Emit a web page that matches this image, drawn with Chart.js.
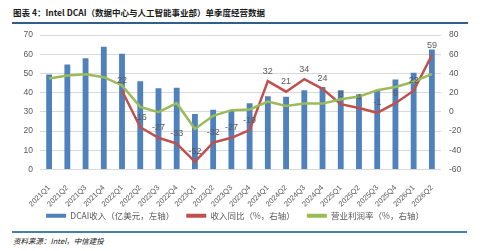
<!DOCTYPE html>
<html><head><meta charset="utf-8">
<script src="https://cdn.jsdelivr.net/npm/chart.js@4/dist/chart.umd.min.js"></script>
<style>
html,body{margin:0;padding:0;background:#fff;width:500px;height:251px;overflow:hidden}
#wrap{position:relative;width:500px;height:251px}
#title{position:absolute;left:13px;top:6px;font:bold 8.5px "Noto Sans CJK SC";color:#1a1a1a;white-space:nowrap}
#tline{position:absolute;left:12px;top:22px;width:456px;height:2px;background:#2F5F8A}
#fline{position:absolute;left:12px;top:231px;width:455px;height:2px;background:#4A7EAA}
#foot{position:absolute;left:13px;top:235px;font:italic 7.5px "Noto Sans CJK SC";color:#222;white-space:nowrap}
#c{position:absolute;left:0;top:0}
</style></head>
<body><div id="wrap">
<div id="title">图表 4：Intel DCAI（数据中心与人工智能事业部）单季度经营数据</div>
<div id="tline"></div>
<canvas id="c" width="500" height="230"></canvas>
<div id="fline"></div>
<div id="foot">资料来源：Intel，中信建投</div>
</div>
<script>
const categories = ["2021Q1","2021Q2","2021Q3","2021Q4","2022Q1","2022Q2","2022Q3","2022Q4","2023Q1","2023Q2","2023Q3","2023Q4","2024Q1","2024Q2","2024Q3","2024Q4","2025Q1","2025Q2","2025Q3","2025Q4","2026Q1","2026Q2"];
const revenue = [49.5,54.6,57.9,63.9,60.3,45.9,42.3,42.6,28.9,31.1,30.9,34.5,38.1,37.8,41.2,42.9,41.2,39.2,40.9,46.9,50.3,62.4];
const revenueYoY = [null,null,null,null,22,-16,-27,-33,-52,-32,-27,-19,32,21,34,24,8,4,-1,9,22,59];
const opMargin = [34.7,37.8,39.1,36.1,27.5,5.2,-0.3,9.0,-17.8,-4.1,1.8,2.5,10.7,6.2,8.6,8.6,13.1,15.9,22.4,25.8,31.3,39.5];
const leftTicks = [0,70,10];
const rightTicks = [-60,80,20];

const gray = '#595959';
const labelPlugin = {
  id:'yoyLabels',
  afterDatasetsDraw(chart){
    const ctx = chart.ctx;
    const meta = chart.getDatasetMeta(1);
    ctx.save();
    ctx.font = '9px "Liberation Sans", Arial, sans-serif';
    ctx.fillStyle = gray;
    ctx.textAlign = 'center';
    ctx.textBaseline = 'middle';
    meta.data.forEach((pt,i)=>{
      const v = revenueYoY[i];
      if(v===null) return;
      ctx.fillText(String(v), pt.x, pt.y-10);
    });
    ctx.restore();
  }
};

new Chart(document.getElementById('c'),{
  data:{
    labels:categories,
    datasets:[
      {type:'bar',label:'DCAI收入（亿美元，左轴）',data:revenue,backgroundColor:'#4F81BD',yAxisID:'y',categoryPercentage:1,barPercentage:0.32,order:3},
      {type:'line',label:'收入同比（%，右轴）',data:revenueYoY,borderColor:'#C0504D',backgroundColor:'#C0504D',borderWidth:2.5,pointRadius:0,tension:0,yAxisID:'y1',order:2,spanGaps:false},
      {type:'line',label:'营业利润率（%，右轴）',data:opMargin,borderColor:'#9BBB59',backgroundColor:'#9BBB59',borderWidth:2.5,pointRadius:0,tension:0,yAxisID:'y1',order:1}
    ]
  },
  options:{
    responsive:false,animation:false,
    layout:{padding:{top:35,left:0,right:30,bottom:0}},
    plugins:{
      tooltip:{enabled:false},
      legend:{position:'bottom',
        labels:{
          font:{size:8.5,family:'"Noto Sans CJK SC"'},color:gray,boxWidth:20,boxHeight:4,padding:12,
          sort:(a,b)=>a.datasetIndex-b.datasetIndex,
          generateLabels(chart){
            return chart.data.datasets.map((d,i)=>({text:d.label,fillStyle:d.backgroundColor,strokeStyle:d.backgroundColor,lineWidth:0,hidden:false,datasetIndex:i,fontColor:gray}));
          }
        }
      }
    },
    scales:{
      x:{grid:{display:false},border:{display:false},
        ticks:{minRotation:45,maxRotation:45,autoSkip:false,color:gray,font:{size:7.5,family:'"Liberation Sans", Arial'},padding:6},
        afterFit(s){s.height=30; s._computeLabelArea = ()=>undefined;}},
      y:{position:'left',min:leftTicks[0],max:leftTicks[1],
        ticks:{stepSize:leftTicks[2],color:gray,font:{size:8.5,family:'"Liberation Sans", Arial'},padding:7},
        grid:{color:'#D9D9D9',drawTicks:false},border:{display:false},
        afterFit(s){s.width=40;}},
      y1:{position:'right',min:rightTicks[0],max:rightTicks[1],
        ticks:{stepSize:rightTicks[2],color:gray,font:{size:8.5,family:'"Liberation Sans", Arial'},padding:8},
        grid:{drawOnChartArea:false,drawTicks:false},border:{display:false},
        afterFit(s){s.width=29;}}
    }
  },
  plugins:[labelPlugin]
});
</script>
</body></html>
